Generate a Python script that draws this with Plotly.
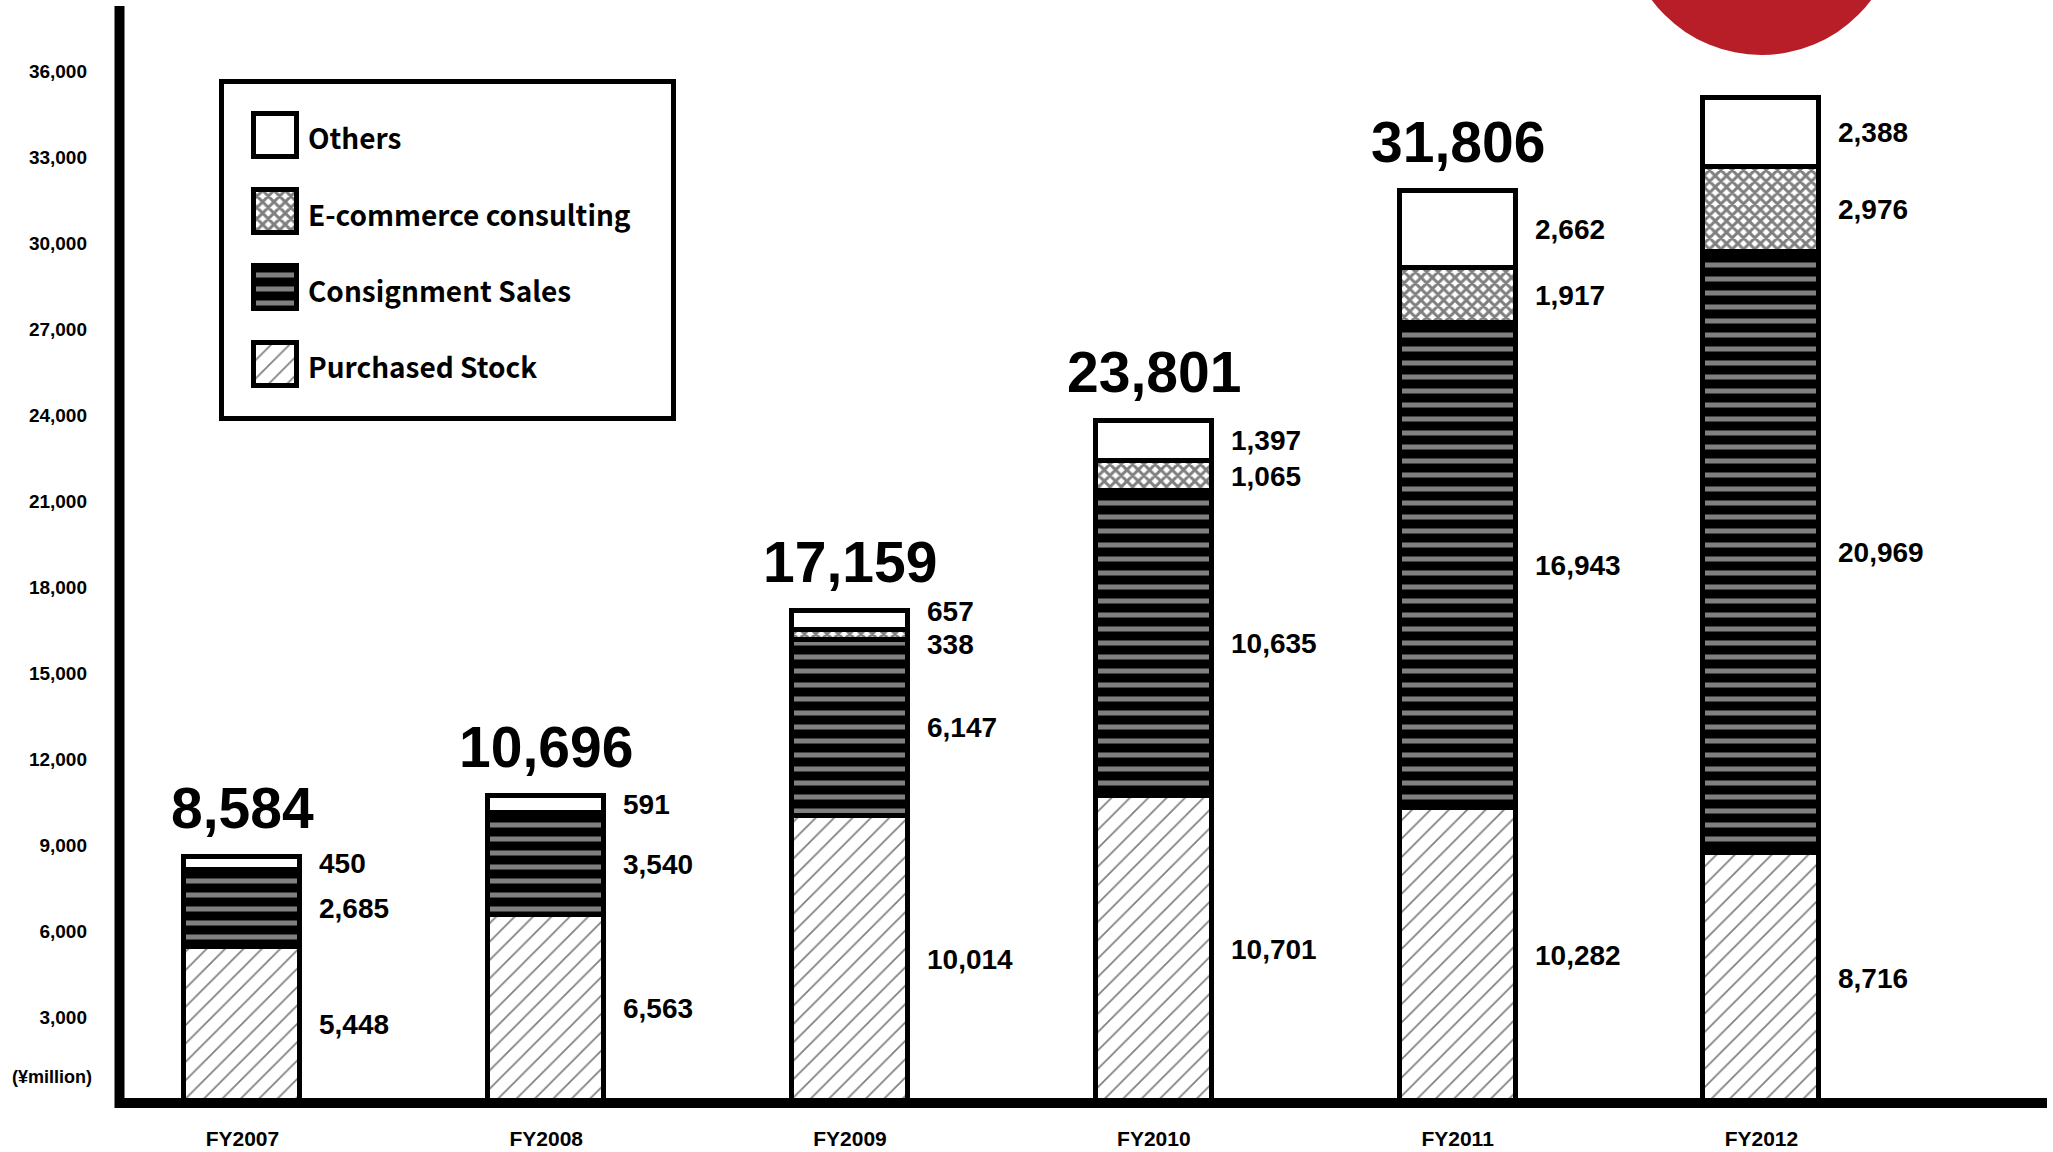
import plotly.graph_objects as go

# ---- data (¥ million) ----
categories = ["FY2007", "FY2008", "FY2009", "FY2010", "FY2011", "FY2012"]
purchased_stock = [5448, 6563, 10014, 10701, 10282, 8716]
consignment_sales = [2685, 3540, 6147, 10635, 16943, 20969]
ecommerce_consulting = [None, None, 338, 1065, 1917, 2976]
others = [450, 591, 657, 1397, 2662, 2388]
totals = [8584, 10696, 17159, 23801, 31806, None]
y_ticks = [3000, 6000, 9000, 12000, 15000, 18000, 21000, 24000,
           27000, 30000, 33000, 36000]

# ---- page geometry (pixels) ----
W, H = 2053, 1152
PLOT_L, PLOT_R = 120, 2047
PLOT_T, PLOT_B = 6, 1103
PX_PER_3000 = 86.0
X_MIN, X_MAX = -0.403, 5.94
BAR_W = 0.382
LINE = 5


def fx(px):
    return px / W


def fy(py):
    return 1 - py / H


y_max = (PLOT_B - PLOT_T) * 3000 / PX_PER_3000
px_per_unit_x = (PLOT_R - PLOT_L) / (X_MAX - X_MIN)

FONT = "Liberation Sans, Arial, Helvetica, sans-serif"
LEGEND_FONT = "Noto Sans CJK JP, Noto Sans, sans-serif"

styles = {
    "Purchased Stock": dict(color="white",
                            pattern=dict(shape="/", fgcolor="black", bgcolor="white",
                                         size=13, solidity=0.13)),
    "Consignment Sales": dict(color="black",
                              pattern=dict(shape="-", fgcolor="white", bgcolor="black",
                                           size=14, solidity=0.36)),
    "E-commerce consulting": dict(color="white",
                                  pattern=dict(shape="x", fgcolor="black", bgcolor="white",
                                               size=8, solidity=0.6)),
    "Others": dict(color="white", pattern=dict(shape="")),
}

stack = [("Purchased Stock", purchased_stock),
         ("Consignment Sales", consignment_sales),
         ("E-commerce consulting", ecommerce_consulting),
         ("Others", others)]

fig = go.Figure()
x_idx = list(range(len(categories)))

for name, vals in stack:
    st = styles[name]
    fig.add_trace(go.Bar(
        x=x_idx, y=vals, name=name, width=BAR_W,
        marker=dict(color=st["color"], pattern=st["pattern"],
                    line=dict(color="black", width=LINE)),
        showlegend=False, hoverinfo="skip",
        xaxis="x", yaxis="y",
    ))

annotations = []

# segment value labels to the right of each bar, nudged apart when crowded
GAP = 1150
for i in x_idx:
    labels = []
    base = 0
    for name, vals in stack:
        v = vals[i]
        if v is None:
            continue
        labels.append([base + v / 2, v])
        base += v
    for _ in range(20):
        for k in range(len(labels) - 1):
            d = labels[k + 1][0] - labels[k][0]
            if d < GAP:
                shift = (GAP - d) / 2
                labels[k][0] -= shift
                labels[k + 1][0] += shift
    for ypos, v in labels:
        annotations.append(dict(
            x=i + BAR_W / 2, y=ypos, xref="x", yref="y",
            text=f"<b>{v:,}</b>", showarrow=False, xanchor="left", yanchor="middle",
            xshift=17, font=dict(family=FONT, size=28, color="black"),
        ))

# totals above the bars
for i, t in zip(x_idx, totals):
    if t is None:
        continue
    annotations.append(dict(
        x=i, y=t, xref="x", yref="y", text=f"<b>{t:,}</b>", showarrow=False,
        xanchor="center", yanchor="bottom", yshift=15,
        font=dict(family=FONT, size=57, color="black"),
    ))

# unit label
annotations.append(dict(
    x=fx(10), y=fy(1077), xref="paper", yref="paper", text="<b>(¥million)</b>",
    showarrow=False, xanchor="left", yanchor="middle",
    font=dict(family=FONT, size=18, color="black"),
))

# ---- legend: patterned swatches drawn on a small helper axis ----
SW_X0, SW_X1 = 240, 310          # helper x-axis pixel span
SW_Y0, SW_Y1 = 100, 400          # helper y-axis pixel span (top, bottom)
SW_SIZE = 43
SW_STEP = 76.2
SW_BOTTOM = 14.5
legend_order = ["Purchased Stock", "Consignment Sales", "E-commerce consulting", "Others"]
for k, name in enumerate(legend_order):
    st = styles[name]
    fig.add_trace(go.Bar(
        x=[35], y=[SW_SIZE], base=[SW_BOTTOM + k * SW_STEP], width=SW_SIZE,
        marker=dict(color=st["color"], pattern=st["pattern"],
                    line=dict(color="black", width=LINE)),
        showlegend=False, hoverinfo="skip", xaxis="x2", yaxis="y2",
    ))
    cy = SW_Y1 - (SW_BOTTOM + k * SW_STEP + SW_SIZE / 2)
    annotations.append(dict(
        x=fx(306), y=fy(cy + 2), xref="paper", yref="paper", text=f"<b>{name}</b>",
        showarrow=False, xanchor="left", yanchor="middle",
        font=dict(family=LEGEND_FONT, size=28, color="black"),
    ))

# red badge above FY2012
badge_cx = PLOT_L + (5 - X_MIN) * px_per_unit_x
badge_cy, badge_r = -82, 137

shapes = [
    # legend frame
    dict(type="rect", xref="paper", yref="paper",
         x0=fx(221.5), x1=fx(673.5), y0=fy(418.5), y1=fy(81.5),
         line=dict(color="black", width=5), fillcolor="rgba(0,0,0,0)", layer="below"),
    # axis lines
    dict(type="line", xref="paper", yref="paper",
         x0=fx(119.5), x1=fx(119.5), y0=fy(1108), y1=fy(PLOT_T),
         line=dict(color="black", width=10)),
    dict(type="line", xref="paper", yref="paper",
         x0=fx(115), x1=fx(PLOT_R), y0=fy(PLOT_B), y1=fy(PLOT_B),
         line=dict(color="black", width=10)),
    dict(type="circle", xref="paper", yref="paper",
         x0=fx(badge_cx - badge_r), x1=fx(badge_cx + badge_r),
         y0=fy(badge_cy + badge_r), y1=fy(badge_cy - badge_r),
         fillcolor="#B71E27", line=dict(width=0)),
]

fig.update_layout(
    width=W, height=H,
    margin=dict(l=0, r=0, t=0, b=0),
    paper_bgcolor="white", plot_bgcolor="white",
    barmode="stack", bargap=0,
    showlegend=False,
    xaxis=dict(domain=[fx(PLOT_L), fx(PLOT_R)], range=[X_MIN, X_MAX],
               tickvals=x_idx, ticktext=[f"<b>{c}</b>" for c in categories],
               showgrid=False, zeroline=False, showline=False, ticks="",
               ticklabelstandoff=21,
               tickfont=dict(family=FONT, size=21, color="black")),
    yaxis=dict(domain=[fy(PLOT_B), fy(PLOT_T)], range=[0, y_max],
               tickvals=y_ticks, ticktext=[f"<b>{v:,}</b>" for v in y_ticks],
               showgrid=False, zeroline=False, showline=False, ticks="",
               ticklabelstandoff=32,
               tickfont=dict(family=FONT, size=19, color="black")),
    xaxis2=dict(domain=[fx(SW_X0), fx(SW_X1)], range=[0, SW_X1 - SW_X0],
                visible=False, anchor="y2"),
    yaxis2=dict(domain=[fy(SW_Y1), fy(SW_Y0)], range=[0, SW_Y1 - SW_Y0],
                visible=False, anchor="x2"),
    annotations=annotations,
    shapes=shapes,
)

fig.write_html("out.html")
